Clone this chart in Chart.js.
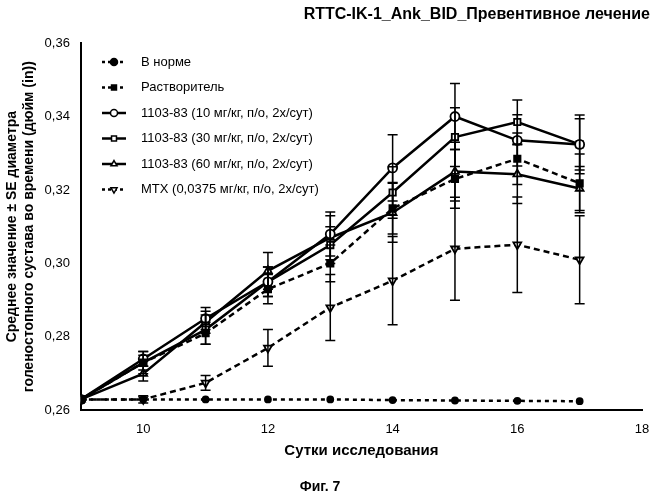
<!DOCTYPE html>
<html><head><meta charset="utf-8">
<script src="https://cdn.jsdelivr.net/npm/chart.js@4/dist/chart.umd.min.js"></script>
<style>body{margin:0;background:#fff}canvas{display:block}</style>
</head><body>
<canvas id="c" width="657" height="500"></canvas>
<script>
const days = [9,10,11,12,13,14,15,16,17];
const normal  = [0.263,0.263,0.263,0.263,0.263,0.2628,0.2627,0.2626,0.2625];
const vehicle = [0.263,0.273,0.281,0.293,0.300,0.315,0.323,0.3285,0.3218];
const dose10  = [0.263,0.274,0.285,0.295,0.308,0.326,0.340,0.3335,0.3324];
const dose30  = [0.263,0.273,0.282,0.295,0.305,0.3193,0.3344,0.3385,0.3324];
const dose60  = [0.263,0.270,0.284,0.298,0.307,0.3138,0.325,0.3243,0.3204];
const mtx     = [0.263,0.263,0.2675,0.277,0.288,0.2953,0.304,0.3051,0.301];
const seNormal  = [0,0,0,0,0,0,0,0,0];
const seVehicle = [0,0.002,0.003,0.004,0.005,0.007,0.008,0.007,0.008];
const se10  = [0,0.002,0.003,0.004,0.006,0.009,0.009,0.007,0.008];
const se30  = [0,0.003,0.004,0.004,0.005,0.007,0.008,0.006,0.007];
const se60  = [0,0.002,0.003,0.005,0.006,0.008,0.008,0.008,0.006];
const seMtx = [0,0.001,0.002,0.005,0.009,0.012,0.014,0.013,0.012];
const labels = ['В норме','Растворитель','1103-83 (10 мг/кг, п/о, 2х/сут)','1103-83 (30 мг/кг, п/о, 2х/сут)','1103-83 (60 мг/кг, п/о, 2х/сут)','МТХ (0,0375 мг/кг, п/о, 2х/сут)'];

const series = [
  {data: normal, se: seNormal, style: 'circle', fill: true, dash: [4,4], r: 3},
  {data: vehicle, se: seVehicle, style: 'rect', fill: true, dash: [6,4], r: 4.5},
  {data: dose10, se: se10, style: 'circle', fill: false, dash: [], r: 4.5},
  {data: dose30, se: se30, style: 'rect', fill: false, dash: [], r: 4.5},
  {data: dose60, se: se60, style: 'triangle', fill: false, dash: [], r: 4.5},
  {data: mtx, se: seMtx, style: 'triangle', rot: 180, fill: false, dash: [6,4], r: 4.5}
];

const errorBars = {
  id: 'errorBars',
  afterDatasetsDraw(chart) {
    const {ctx, scales: {x, y}} = chart;
    ctx.save();
    ctx.strokeStyle = '#000'; ctx.lineWidth = 1.5;
    series.forEach(s => s.data.forEach((v, i) => {
      if (!s.se[i]) return;
      const px = x.getPixelForValue(days[i]);
      const top = y.getPixelForValue(v + s.se[i]), bot = y.getPixelForValue(v - s.se[i]);
      ctx.beginPath();
      ctx.moveTo(px, top); ctx.lineTo(px, bot);
      ctx.moveTo(px - 5, top); ctx.lineTo(px + 5, top);
      ctx.moveTo(px - 5, bot); ctx.lineTo(px + 5, bot);
      ctx.stroke();
    }));
    ctx.restore();
  }
};

const legendBox = {
  id: 'legendBox',
  afterDraw(chart) {
    const ctx = chart.ctx;
    ctx.save();
    ctx.font = '13px "Liberation Sans", Arial';
    ctx.textBaseline = 'middle';
    labels.forEach((t, i) => {
      const yy = 62 + i * 25.5, s = series[i];
      ctx.strokeStyle = '#000'; ctx.lineWidth = 2.5;
      ctx.setLineDash(s.dash.length ? [3,3] : []);
      ctx.beginPath(); ctx.moveTo(102, yy); ctx.lineTo(126, yy); ctx.stroke();
      ctx.setLineDash([]);
      ctx.lineWidth = 1.5;
      ctx.fillStyle = s.fill ? '#000' : '#fff';
      Chart.helpers.drawPoint(ctx, {pointStyle: s.style, rotation: s.rot || 0, radius: 3.5, borderWidth: 1.5}, 114, yy);
      ctx.fillStyle = '#000';
      ctx.fillText(t, 141, yy);
    });
    ctx.font = 'bold 16px "Liberation Sans", Arial';
    ctx.textAlign = 'right';
    ctx.fillText('RTTC-IK-1_Ank_BID_Превентивное лечение', 650, 15);
    ctx.font = 'bold 14px "Liberation Sans", Arial';
    ctx.textAlign = 'center';
    ctx.fillText('Фиг. 7', 320, 487);
    ctx.restore();
  }
};

new Chart('c', {
  type: 'line',
  data: {
    datasets: series.map((s, i) => ({
      label: labels[i],
      data: days.map((d, j) => ({x: d, y: s.data[j]})),
      borderColor: '#000',
      borderWidth: 2.5,
      borderDash: s.dash,
      pointStyle: s.style,
      rotation: s.rot || 0,
      pointRadius: s.r,
      pointBorderWidth: 1.8,
      pointBorderColor: '#000',
      pointBackgroundColor: s.fill ? '#000' : '#fff',
      tension: 0
    }))
  },
  options: {
    responsive: false,
    animation: false,
    layout: {padding: {top: 43, right: 15, bottom: 38, left: 0}},
    plugins: {legend: {display: false}, tooltip: {enabled: false}},
    scales: {
      x: {
        type: 'linear', min: 9, max: 18,
        border: {color: '#000', width: 2},
        grid: {display: false, drawTicks: true},
        ticks: {stepSize: 2, color: '#000', font: {size: 13, family: '"Liberation Sans", Arial'},
          callback: v => v % 2 === 0 ? v : ''},
        title: {display: true, text: 'Сутки исследования', color: '#000',
          font: {size: 15, weight: 'bold', family: '"Liberation Sans", Arial'}, padding: 2}
      },
      y: {
        min: 0.26, max: 0.36,
        border: {color: '#000', width: 2},
        grid: {display: false},
        ticks: {stepSize: 0.02, color: '#000', font: {size: 13, family: '"Liberation Sans", Arial'},
          callback: v => v.toFixed(2).replace('.', ',')},
        title: {display: true, text: ['Среднее значение ± SE диаметра', 'голеностопного сустава во времени (дюйм (in))'],
          color: '#000', font: {size: 14, weight: 'bold', family: '"Liberation Sans", Arial'}, padding: 4}
      }
    }
  },
  plugins: [errorBars, legendBox]
});
</script>
</body></html>
